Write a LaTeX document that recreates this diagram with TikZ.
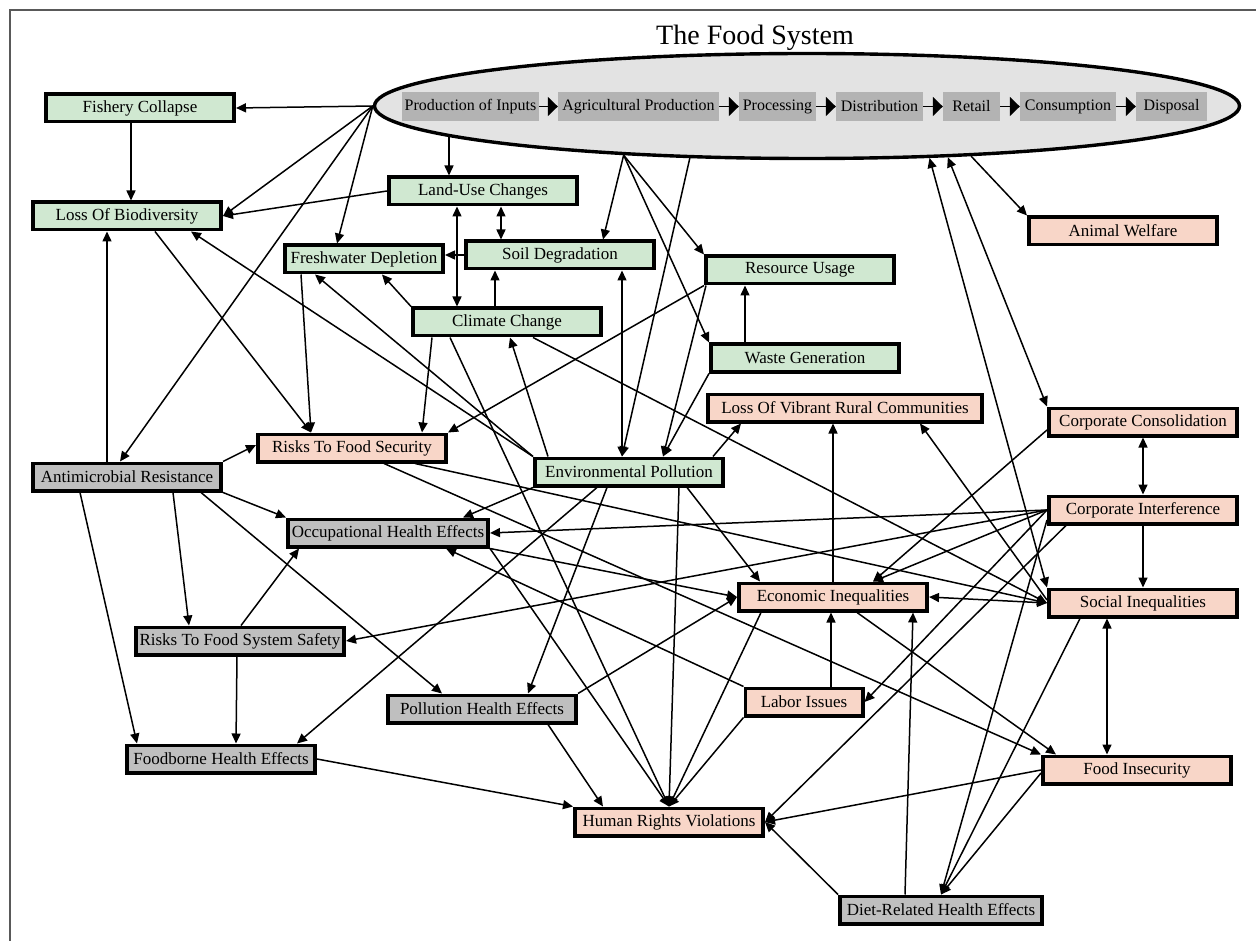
\documentclass[tikz,border=0pt]{standalone}
\usepackage{fontspec}
\setmainfont{Liberation Serif}
\usetikzlibrary{arrows.meta}
\usetikzlibrary{shapes.geometric}
\definecolor{envgreen}{rgb}{0.816, 0.910, 0.820}
\definecolor{socpink}{rgb}{0.973, 0.839, 0.784}
\definecolor{hlthgray}{rgb}{0.749, 0.749, 0.749}
\definecolor{fsfill}{rgb}{0.890, 0.890, 0.890}
\definecolor{stagegray}{rgb}{0.702, 0.702, 0.702}
\definecolor{framegray}{rgb}{0.35, 0.35, 0.35}
\tikzset{box/.style = {draw, line width = 3.6pt, minimum width = 188.4pt, minimum height = 27.4pt, inner sep = 2pt, font = \fontsize{17}{17}\selectfont}}
\tikzset{env/.style = {box, fill = envgreen}}
\tikzset{soc/.style = {box, fill = socpink}}
\tikzset{hlth/.style = {box, fill = hlthgray}}
\tikzset{stage/.style = {fill = stagegray, minimum height = 29pt, inner sep = 1pt, font = \fontsize{16}{16}\selectfont}}
\tikzset{link/.style = {->, line width = 1.5pt}}
\tikzset{twoway/.style = {<->, line width = 1.5pt}}
\tikzset{flow/.style = {-{Triangle[length = 10pt, width = 19pt]}, line width = 1.6pt}}

\begin{document}
\begin{tikzpicture}[x = 1pt, y = -1pt, >={Triangle[length = 10pt, width = 9pt]}]
    \useasboundingbox (0, 0) rectangle (1256, 941);
    \draw [framegray, line width = 1.5pt] (10, 941) -- (10, 10) -- (1256, 10);
    \node [font = \fontsize{28}{28}\selectfont, anchor = base] (title) at (755, 45) {The Food System};

    % the food system
    \node [ellipse, draw, line width = 3.4pt, fill = fsfill, minimum width = 865pt, minimum height = 105pt, inner sep = 0pt] (fs) at (807, 106) {};
    \node [stage, minimum width = 137pt] (inputs) at (470.5, 106.5) {Production of Inputs};
    \node [stage, minimum width = 161pt] (agri) at (638.5, 106.5) {Agricultural Production};
    \node [stage, minimum width = 77pt] (proc) at (777.5, 106.5) {Processing};
    \node [stage, minimum width = 87pt] (dist) at (879.5, 106.5) {Distribution};
    \node [stage, minimum width = 57pt] (retail) at (971.5, 106.5) {Retail};
    \node [stage, minimum width = 96pt] (consum) at (1068, 106.5) {Consumption};
    \node [stage, minimum width = 71pt] (disposal) at (1171.5, 106.5) {Disposal};
    \foreach \a/\b in {inputs/agri, agri/proc, proc/dist, dist/retail, retail/consum, consum/disposal}
        \draw [flow] (\a) -- (\b);

    % environment
    \node [env] (fishery) at (140, 108) {Fishery Collapse};
    \node [env] (biodiv) at (127, 216) {Loss Of Biodiversity};
    \node [env] (landuse) at (483, 191) {Land-Use Changes};
    \node [env] (soil) at (560, 255) {Soil Degradation};
    \node [env, minimum width = 158.4pt] (fresh) at (364, 259) {Freshwater Depletion};
    \node [env] (climate) at (507, 322) {Climate Change};
    \node [env] (resource) at (800, 270) {Resource Usage};
    \node [env] (waste) at (805, 358) {Waste Generation};
    \node [env] (envpoll) at (629, 472) {Environmental Pollution};

    % society
    \node [soc] (animal) at (1123, 231) {Animal Welfare};
    \node [soc, minimum width = 274.4pt] (vibrant) at (845, 408) {Loss Of Vibrant Rural Communities};
    \node [soc] (corpcons) at (1143, 422) {Corporate Consolidation};
    \node [soc] (corpint) at (1143, 510) {Corporate Interference};
    \node [soc] (social) at (1143, 603) {Social Inequalities};
    \node [soc] (econ) at (833, 597) {Economic Inequalities};
    \node [soc, minimum width = 117.4pt] (labor) at (804, 702) {Labor Issues};
    \node [soc] (foodinsec) at (1137, 770) {Food Insecurity};
    \node [soc] (rights) at (669, 822) {Human Rights Violations};
    \node [soc] (foodsec) at (352, 448) {Risks To Food Security};

    % health
    \node [hlth] (amr) at (127, 477) {Antimicrobial Resistance};
    \node [hlth, minimum width = 200.4pt] (occup) at (388, 533) {Occupational Health Effects};
    \node [hlth, minimum width = 208.4pt] (safety) at (240, 641) {Risks To Food System Safety};
    \node [hlth] (pollhealth) at (482, 709) {Pollution Health Effects};
    \node [hlth] (foodborne) at (221, 759) {Foodborne Health Effects};
    \node [hlth, minimum width = 202.4pt] (diet) at (941, 910) {Diet-Related Health Effects};

    % links from the food system
    \draw [link] (fs.west) -- (fishery.east);
    \draw [link] (fs.west) -- (biodiv.east);
    \draw [link] (fs.west) -- ([xshift = -27pt]fresh.north);
    \draw [link] (fs.west) -- ([xshift = -7pt]amr.north);
    \draw [link] ([xshift = -34pt]landuse.north |- fs.185) -- ([xshift = -34pt]landuse.north);
    \draw [link] (fs.195) -- ([xshift = 43pt]soil.north);
    \draw [link] (fs.195) -- (resource.north west);
    \draw [link] (fs.195) -- (waste.north west);
    \draw [link] (fs.204) -- ([xshift = -7pt]envpoll.north);
    \draw [link] (fs.343) -- (animal.north west);
    \draw [twoway] (fs.340) -- (corpcons.north west);
    \draw [twoway] (fs.337) -- (social.north west);

    % environment links
    \draw [link] ([xshift = -9pt]fishery.south) -- ([xshift = -9pt]fishery.south |- biodiv.north);
    \draw [link] (landuse.west) -- (biodiv.east);
    \draw [link] ([xshift = -20pt]amr.north) -- ([xshift = -20pt]biodiv.south);
    \draw [link] (envpoll.north west) -- ([xshift = 64pt]biodiv.south);
    \draw [link] (envpoll.north west) -- ([xshift = -49pt]fresh.south);
    \draw [link] ([xshift = 28pt]biodiv.south) -- ([xshift = -41pt]foodsec.north);
    \draw [link] ([xshift = -63pt]fresh.south) -- ([xshift = -41pt]foodsec.north);
    \draw [twoway] ([xshift = -26pt]landuse.south) -- ([xshift = -26pt]landuse.south |- climate.north);
    \draw [twoway] ([xshift = 18pt]landuse.south) -- ([xshift = 18pt]landuse.south |- soil.north);
    \draw [link] (soil.west) -- (soil.west -| fresh.east);
    \draw [link] ([xshift = -12pt]climate.north) -- ([xshift = -12pt]climate.north |- soil.south);
    \draw [link] (climate.north west) -- ([xshift = 18pt]fresh.south);
    \draw [link] ([xshift = -75pt]climate.south) -- ([xshift = 70pt]foodsec.north);
    \draw [link] ([xshift = -57pt]climate.south) -- (rights.north);
    \draw [link] ([xshift = 26pt]climate.south) -- (social.west);
    \draw [link] ([xshift = -81pt]envpoll.north) -- ([xshift = 3pt]climate.south);
    \draw [twoway] ([xshift = 62pt]soil.south) -- ([xshift = 62pt]soil.south |- envpoll.north);
    \draw [link] ([xshift = 2pt]resource.south west) -- ([xshift = 34pt]envpoll.north);
    \draw [link] (waste.south west) -- ([xshift = 34pt]envpoll.north);
    \draw [link] (resource.south west) -- (foodsec.north east);
    \draw [link] ([xshift = -60pt]waste.north) -- ([xshift = -60pt]waste.north |- resource.south);
    \draw [link] ([xshift = 84pt]envpoll.north) -- ([xshift = 35pt]vibrant.south west);

    % pollution links
    \draw [link] (envpoll.south west) -- ([xshift = 75pt]occup.north);
    \draw [link] ([xshift = -32pt]envpoll.south) -- ([xshift = 76pt]foodborne.north);
    \draw [link] ([xshift = -22pt]envpoll.south) -- ([xshift = 46pt]pollhealth.north);
    \draw [link] ([xshift = 50pt]envpoll.south) -- (rights.north);
    \draw [link] ([xshift = 58pt]envpoll.south) -- ([xshift = -73pt]econ.north);

    % food security and resistance links
    \draw [link] (amr.north east) -- ([yshift = 3pt]foodsec.west);
    \draw [link] ([xshift = 63pt]foodsec.south) -- (social.west);
    \draw [link] ([xshift = 32pt]foodsec.south) -- (foodinsec.north west);
    \draw [link] (amr.south east) -- (occup.north west);
    \draw [link] ([xshift = 46pt]amr.south) -- ([xshift = -51pt]safety.north);
    \draw [link] ([xshift = -47pt]amr.south) -- ([xshift = -84pt]foodborne.north);
    \draw [link] ([xshift = 74pt]amr.south) -- ([xshift = -40pt]pollhealth.north);
    \draw [link] ([xshift = -3pt]safety.south) -- ([xshift = 15pt]foodborne.north);
    \draw [link] ([xshift = 1pt]safety.north) -- ([xshift = -89pt]occup.south);

    % health links
    \draw [link] (occup.south east) -- (econ.west);
    \draw [link] (occup.south east) -- (rights.north);
    \draw [link] (labor.north west) -- ([xshift = 58pt]occup.south);
    \draw [link] (pollhealth.north east) -- (econ.west);
    \draw [link] ([xshift = 66pt]pollhealth.south) -- ([xshift = -66pt]rights.north);
    \draw [link] (foodborne.east) -- (rights.north west);

    % inequality links
    \draw [link] (econ.north) -- (econ.north |- vibrant.south);
    \draw [twoway] (econ.east) -- (social.west);
    \draw [link] ([xshift = 24pt]econ.south) -- ([xshift = -81pt]foodinsec.north);
    \draw [link] ([xshift = -72pt]econ.south) -- (rights.north);
    \draw [link] ([xshift = 27pt]labor.north) -- ([xshift = 27pt]labor.north |- econ.south);
    \draw [link] (labor.south west) -- (rights.north);
    \draw [link] ([xshift = -36pt]diet.north) -- ([xshift = 80pt]econ.south);
    \draw [link] (diet.north west) -- (rights.east);
    \draw [link] ([yshift = -8pt]corpcons.west) -- ([xshift = 40pt]econ.north);
    \draw [link] (corpint.west) -- ([xshift = 40pt]econ.north);
    \draw [link] ([yshift = 3pt]social.west) -- ([xshift = 75pt]vibrant.south);

    % corporate links
    \draw [twoway] (corpcons.south) -- (corpint.north);
    \draw [link] (corpint.south) -- (social.north);
    \draw [link] (corpint.west) -- (occup.east);
    \draw [link] (corpint.west) -- (safety.east);
    \draw [link] (corpint.west) -- (labor.east);
    \draw [link] ([xshift = -77pt]corpint.south) -- (rights.east);
    \draw [link] ([yshift = -10pt]corpint.west) -- (diet.north);
    \draw [twoway] ([xshift = -36pt]social.south) -- ([xshift = -36pt]social.south |- foodinsec.north);
    \draw [link] ([xshift = -63pt]social.south) -- (diet.north);
    \draw [link] ([yshift = -3pt]foodinsec.west) -- (diet.north);
    \draw [link] (foodinsec.west) -- (rights.east);
\end{tikzpicture}
\end{document}
